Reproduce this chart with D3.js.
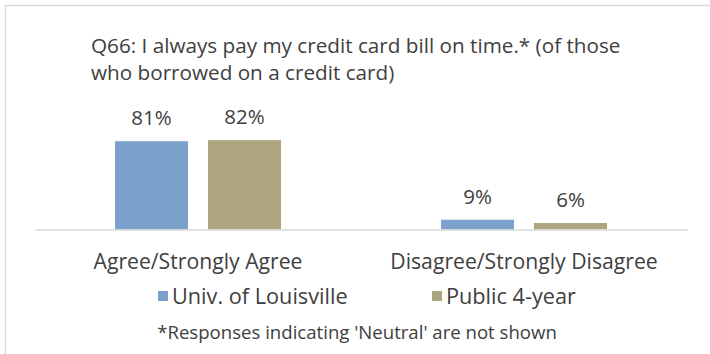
<!DOCTYPE html>
<html>
<head>
<meta charset="utf-8">
<script src="https://cdn.jsdelivr.net/npm/d3@7"></script>
<style>
  html, body { margin: 0; padding: 0; background: #fff; }
  svg { display: block; }
  text { font-family: "Open Sans", Lato, sans-serif; fill: #404040; }
</style>
</head>
<body>
<svg id="chart" width="710" height="354"></svg>
<script>
// Survey responses, percent of respondents
const categories = ["Agree/Strongly Agree", "Disagree/Strongly Disagree"];
const seriesNames = ["Univ. of Louisville", "Public 4-year"];
const louisville = [81, 9];
const public4yr = [82, 6];
const titleLines = ["Q66: I always pay my credit card bill on time.* (of those", "who borrowed on a credit card)"];
const footnote = "*Responses indicating 'Neutral' are not shown";

const colors = ["#7ba1cc", "#ada57d"];
const seriesValues = [louisville, public4yr];
const fontFamily = "'Open Sans', Lato, sans-serif";

const svg = d3.select("#chart");

// Outer frame (only top and left edges fall inside the view)
svg.append("rect")
  .attr("x", 5.5).attr("y", 5.5)
  .attr("width", 760).attr("height", 400)
  .attr("fill", "#fff")
  .attr("stroke", "#d9d9d9")
  .attr("stroke-width", 1.5);

// Title
svg.append("g").selectAll("text")
  .data(titleLines)
  .join("text")
  .attr("x", 91)
  .attr("y", (d, i) => 53 + i * 27)
  .attr("font-size", 20.7)
  .text(d => d);

const plot = { left: 35, right: 687, baseline: 229.5, top: 120.5 };

const x0 = d3.scaleBand()
  .domain(categories)
  .range([plot.left, plot.right])
  .padding(0);

const x1 = d3.scaleBand()
  .domain(seriesNames)
  .range([80, x0.bandwidth() - 80])
  .paddingInner(0.215)
  .paddingOuter(0);

const y = d3.scaleLinear()
  .domain([0, 100])
  .range([plot.baseline, plot.top]);

const rows = categories.map((c, ci) => ({
  category: c,
  values: seriesNames.map((s, si) => ({ series: s, si, value: seriesValues[si][ci] }))
}));

const groups = svg.append("g").selectAll("g")
  .data(rows)
  .join("g")
  .attr("transform", d => `translate(${x0(d.category)},0)`);

groups.selectAll("rect")
  .data(d => d.values)
  .join("rect")
  .attr("x", d => x1(d.series))
  .attr("y", d => y(d.value))
  .attr("width", x1.bandwidth())
  .attr("height", d => y(0) - y(d.value))
  .attr("fill", d => colors[d.si]);

groups.selectAll("text.lbl")
  .data(d => d.values)
  .join("text")
  .attr("class", "lbl")
  .attr("x", d => x1(d.series) + x1.bandwidth() / 2)
  .attr("y", d => y(d.value) - 16)
  .attr("text-anchor", "middle")
  .attr("font-size", 20.5)
  .text(d => d.value + "%");

// Category axis
const axis = svg.append("g")
  .attr("transform", `translate(0,${plot.baseline})`)
  .call(d3.axisBottom(x0).tickSize(0).tickPadding(24));
axis.select(".domain").attr("stroke", "#d9d9d9").attr("stroke-width", 1.5);
axis.selectAll("text")
  .attr("font-size", 21.2)
  .attr("font-family", fontFamily)
  .attr("fill", "#404040");

// Legend
const legendItems = [
  { name: seriesNames[0], color: colors[0], x: 158 },
  { name: seriesNames[1], color: colors[1], x: 432 }
];
const legend = svg.append("g").selectAll("g")
  .data(legendItems)
  .join("g")
  .attr("transform", d => `translate(${d.x},291)`);
legend.append("rect")
  .attr("width", 10).attr("height", 10)
  .attr("fill", d => d.color);
legend.append("text")
  .attr("x", 14).attr("y", 12.5)
  .attr("font-size", 21.7)
  .text(d => d.name);

// Footnote
svg.append("text")
  .attr("x", 357)
  .attr("y", 338.5)
  .attr("text-anchor", "middle")
  .attr("font-size", 18.6)
  .text(footnote);
</script>
</body>
</html>
